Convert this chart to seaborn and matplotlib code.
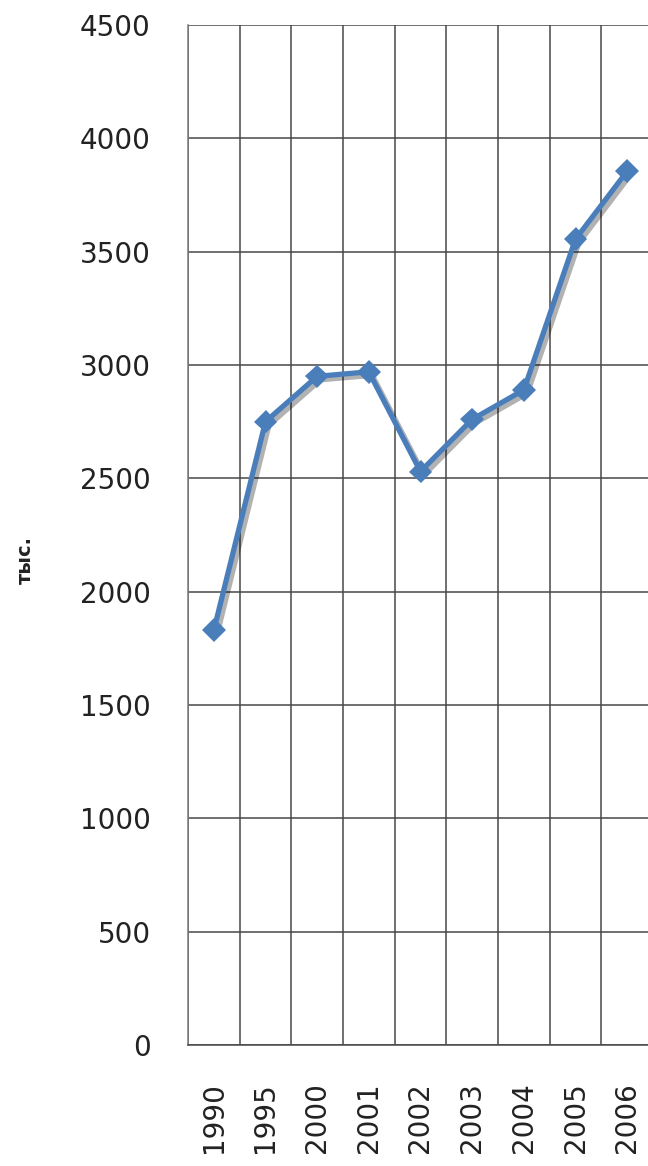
import matplotlib
matplotlib.use('Agg')
import matplotlib.pyplot as plt
import matplotlib.patheffects as pe
import pandas as pd
import seaborn as sns

# Data
years = ['1990', '1995', '2000', '2001', '2002', '2003', '2004', '2005', '2006']
values = [1830, 2750, 2950, 2970, 2530, 2760, 2890, 3555, 3855]
y_ticks = [0, 500, 1000, 1500, 2000, 2500, 3000, 3500, 4000, 4500]

df = pd.DataFrame({'Год': years, 'Значение': values})

sns.set_style('white')
plt.rcParams['font.family'] = ['DejaVu Sans']

fig = plt.figure(figsize=(6.48, 11.66), dpi=100)
ax = fig.add_axes([188 / 648, 121 / 1166, 465 / 648, 1020 / 1166])

sns.lineplot(data=df, x='Год', y='Значение', ax=ax, color='#4a7ebb',
             linewidth=3.8, marker='D', markersize=12, markeredgewidth=0,
             path_effects=[pe.SimpleLineShadow(offset=(2.5, -2.5), alpha=0.3),
                           pe.Normal()])

ax.set_xlim(-0.5, len(years) - 0.5)
ax.set_ylim(0, 4500)
ax.set_yticks(y_ticks)
ax.set_yticklabels([str(v) for v in y_ticks])

# grid at category boundaries
ax.set_xticks([i - 0.5 for i in range(len(years) + 1)], minor=True)
ax.grid(True, which='minor', axis='x', color='#484848', linewidth=1.1)
ax.grid(True, which='major', axis='y', color='#484848', linewidth=1.1)
ax.grid(False, which='major', axis='x')
ax.set_axisbelow(True)

for s in ['top', 'right']:
    ax.spines[s].set_visible(False)
ax.spines['left'].set_color('#7a7a7a')
ax.spines['bottom'].set_color('#484848')
ax.spines['left'].set_linewidth(1.1)
ax.spines['bottom'].set_linewidth(1.1)

ax.tick_params(axis='y', which='both', length=0, pad=27, labelsize=20, labelcolor='#222222')
ax.tick_params(axis='x', which='both', length=0, pad=27, labelsize=20, labelcolor='#222222',
               labelrotation=90)

ax.set_xlabel('')
ax.set_ylabel('')
fig.text(25 / 648, 1 - 560 / 1166, 'тыс.', rotation=90, fontsize=14, fontweight='bold',
         ha='center', va='center', color='#222222')

fig.savefig('out.png', dpi=100)
